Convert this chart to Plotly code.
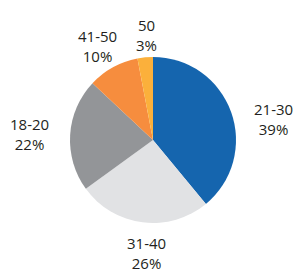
import math
import plotly.graph_objects as go

labels = ["21-30", "31-40", "18-20", "41-50", "50"]
values = [39, 26, 22, 10, 3]
colors = ["#1565ae", "#e1e2e4", "#939598", "#f68d3e", "#fbb03b"]

W, H = 302, 280
CX, CY, R = 153, 140, 83
# label placement (layout styling): distance from centre in px and angle nudge in degrees
label_r = [122, 113, 124, 109, 105]
label_nudge = [10, -4, -1, -2, 2]

fig = go.Figure(go.Pie(
    labels=labels, values=values, sort=False, direction="clockwise", rotation=0,
    marker=dict(colors=colors, line=dict(width=0)),
    textinfo="none", showlegend=False, hoverinfo="skip",
    domain=dict(x=[(CX - R) / W, (CX + R) / W], y=[1 - (CY + R) / H, 1 - (CY - R) / H]),
))

total = sum(values)
cum = 0
for lab, v, lr, nd in zip(labels, values, label_r, label_nudge):
    mid = (cum + v / 2) / total * 360 + nd
    cum += v
    a = math.radians(mid)
    px = CX + lr * math.sin(a)
    py = CY - lr * math.cos(a)
    fig.add_annotation(
        x=px / W, y=1 - py / H, xref="paper", yref="paper",
        text=f"{lab}<br>{v}%", showarrow=False, xanchor="center", yanchor="middle",
        font=dict(family="Open Sans", size=15, color="#231f20"),
    )

fig.update_layout(width=W, height=H, margin=dict(l=0, r=0, t=0, b=0),
                  paper_bgcolor="white", plot_bgcolor="white")
fig.write_html("out.html")
